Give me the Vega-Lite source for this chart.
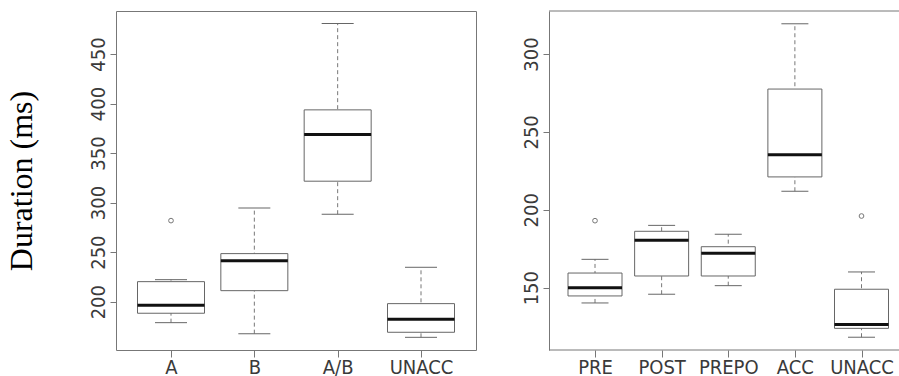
{
  "$schema": "https://vega.github.io/schema/vega-lite/v6.json",
  "padding": {"left": 4, "top": 10, "right": 0, "bottom": 0},
  "background": "white",
  "datasets": {
    "left": [
      {"group": "A", "lower": 178.8, "q1": 188.3, "median": 196.4, "q3": 220.2, "upper": 222.2},
      {"group": "B", "lower": 167.7, "q1": 211.1, "median": 241.4, "q3": 248.5, "upper": 294.6},
      {"group": "A/B", "lower": 288.3, "q1": 321.6, "median": 368.7, "q3": 393.6, "upper": 480.8},
      {"group": "UNACC", "lower": 164.0, "q1": 169.1, "median": 182.2, "q3": 198.0, "upper": 234.7}
    ],
    "leftOutliers": [{"group": "A", "value": 281.8}],
    "right": [
      {"group": "PRE", "lower": 140.2, "q1": 144.7, "median": 150.0, "q3": 159.4, "upper": 168.2},
      {"group": "POST", "lower": 145.8, "q1": 157.5, "median": 180.4, "q3": 186.2, "upper": 190.0},
      {"group": "PREPO", "lower": 151.3, "q1": 157.5, "median": 172.1, "q3": 176.3, "upper": 184.3},
      {"group": "ACC", "lower": 211.9, "q1": 221.1, "median": 235.4, "q3": 277.5, "upper": 319.4},
      {"group": "UNACC", "lower": 118.2, "q1": 123.9, "median": 126.3, "q3": 149.0, "upper": 160.1}
    ],
    "rightOutliers": [{"group": "PRE", "value": 193.0}, {"group": "UNACC", "value": 196.0}]
  },
  "config": {
    "view": {"stroke": "#777", "strokeWidth": 1},
    "axis": {
      "grid": false,
      "labelFont": "DejaVu Sans Condensed, Liberation Sans, Arial",
      "labelFontSize": 20,
      "labelColor": "#3a3a3a",
      "tickColor": "#777",
      "domainColor": "#777"
    }
  },
  "spacing": 73,
  "bounds": "flush",
  "hconcat": [
    {
      "width": 360,
      "height": 339,
      "data": {"name": "left"},
      "encoding": {
        "x": {
          "field": "group", "type": "nominal",
          "sort": ["A", "B", "A/B", "UNACC"],
          "scale": {"type": "point", "padding": 0.66},
          "axis": {"title": null, "domain": false, "tickSize": 7, "labelAngle": 0, "labelBaseline": "alphabetic", "labelPadding": 16}
        }
      },
      "layer": [
        {
          "mark": {"type": "rule", "strokeDash": [4, 3], "color": "#777"},
          "encoding": {
            "y": {
              "field": "lower", "type": "quantitative",
              "scale": {"domain": [151.2, 493.4], "nice": false, "zero": false},
              "axis": {
                "values": [200, 250, 300, 350, 400, 450], "domain": false, "tickSize": 6,
                "labelAngle": 270, "labelAlign": "center", "labelBaseline": "alphabetic", "labelPadding": 6,
                "title": "Duration (ms)", "titleFont": "Liberation Serif, Times New Roman", "titleFontSize": 32,
                "titleFontWeight": "normal", "titleColor": "#000", "titleAngle": 270, "titleBaseline": "alphabetic", "titleX": -85
              }
            },
            "y2": {"field": "upper"}
          }
        },
        {"mark": {"type": "tick", "color": "#666", "thickness": 1, "size": 32, "opacity": 1}, "encoding": {"y": {"field": "lower", "type": "quantitative"}}},
        {"mark": {"type": "tick", "color": "#666", "thickness": 1, "size": 32, "opacity": 1}, "encoding": {"y": {"field": "upper", "type": "quantitative"}}},
        {"mark": {"type": "bar", "fill": "white", "stroke": "#666", "strokeWidth": 1, "size": 67, "opacity": 1}, "encoding": {"y": {"field": "q1", "type": "quantitative"}, "y2": {"field": "q3"}}},
        {"mark": {"type": "tick", "color": "#111", "thickness": 3, "size": 67, "opacity": 1}, "encoding": {"y": {"field": "median", "type": "quantitative"}}},
        {
          "data": {"name": "leftOutliers"},
          "mark": {"type": "point", "shape": "circle", "filled": false, "color": "#777", "size": 22, "strokeWidth": 1, "opacity": 1},
          "encoding": {"y": {"field": "value", "type": "quantitative"}}
        }
      ]
    },
    {
      "width": 350,
      "height": 339,
      "view": {"stroke": null},
      "layer": [
        {
          "data": {"name": "right"},
          "encoding": {
            "x": {
              "field": "group", "type": "nominal",
              "sort": ["PRE", "POST", "PREPO", "ACC", "UNACC"],
              "scale": {"type": "point", "padding": 0, "range": [46, 312.5]},
              "axis": {"title": null, "domain": false, "tickSize": 7, "labelAngle": 0, "labelBaseline": "alphabetic", "labelPadding": 16}
            }
          },
          "layer": [
            {
              "mark": {"type": "rule", "strokeDash": [4, 3], "color": "#777"},
              "encoding": {
                "y": {
                  "field": "lower", "type": "quantitative",
                  "scale": {"domain": [110, 327.6], "nice": false, "zero": false},
                  "axis": {
                    "values": [150, 200, 250, 300], "domain": true, "tickSize": 6,
                    "labelAngle": 270, "labelAlign": "center", "labelBaseline": "alphabetic", "labelPadding": 6,
                    "title": null
                  }
                },
                "y2": {"field": "upper"}
              }
            },
            {"mark": {"type": "tick", "color": "#666", "thickness": 1, "size": 27, "opacity": 1}, "encoding": {"y": {"field": "lower", "type": "quantitative"}}},
            {"mark": {"type": "tick", "color": "#666", "thickness": 1, "size": 27, "opacity": 1}, "encoding": {"y": {"field": "upper", "type": "quantitative"}}},
            {"mark": {"type": "bar", "fill": "white", "stroke": "#666", "strokeWidth": 1, "size": 54, "opacity": 1}, "encoding": {"y": {"field": "q1", "type": "quantitative"}, "y2": {"field": "q3"}}},
            {"mark": {"type": "tick", "color": "#111", "thickness": 3, "size": 54, "opacity": 1}, "encoding": {"y": {"field": "median", "type": "quantitative"}}},
            {
              "data": {"name": "rightOutliers"},
              "mark": {"type": "point", "shape": "circle", "filled": false, "color": "#777", "size": 22, "strokeWidth": 1, "opacity": 1},
              "encoding": {"y": {"field": "value", "type": "quantitative"}}
            }
          ]
        },
        {"data": {"values": [{}]}, "mark": {"type": "rule", "color": "#777"}, "encoding": {"y": {"datum": 327.6}}},
        {"data": {"values": [{}]}, "mark": {"type": "rule", "color": "#777"}, "encoding": {"y": {"datum": 110}}}
      ]
    }
  ]
}
